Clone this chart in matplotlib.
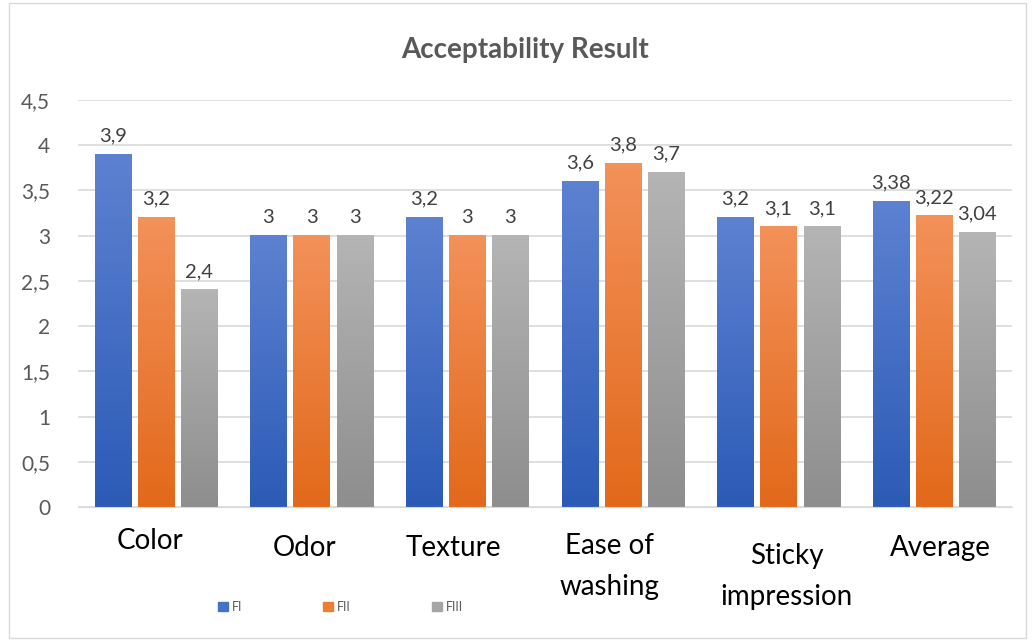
import matplotlib
matplotlib.use("Agg")
import matplotlib.pyplot as plt
import matplotlib.transforms as mtransforms
from matplotlib.colors import LinearSegmentedColormap
import numpy as np

plt.rcParams['font.family'] = ['Lato', 'DejaVu Sans']

categories = ["Color", "Odor", "Texture", "Ease of\nwashing", "Sticky\nimpression", "Average"]
series_names = ["FI", "FII", "FIII"]
fi = [3.9, 3.0, 3.2, 3.6, 3.2, 3.38]
fii = [3.2, 3.0, 3.0, 3.8, 3.1, 3.22]
fiii = [2.4, 3.0, 3.0, 3.7, 3.1, 3.04]
labels_fi = ["3,9", "3", "3,2", "3,6", "3,2", "3,38"]
labels_fii = ["3,2", "3", "3", "3,8", "3,1", "3,22"]
labels_fiii = ["2,4", "3", "3", "3,7", "3,1", "3,04"]
yticks = [0, 0.5, 1, 1.5, 2, 2.5, 3, 3.5, 4, 4.5]
ytick_labels = ["0", "0,5", "1", "1,5", "2", "2,5", "3", "3,5", "4", "4,5"]

# (top colour, bottom colour) of each series gradient
grads = [("#5d81d1", "#2c5bb6"), ("#f3915a", "#e2691a"), ("#b4b4b4", "#8e8e8e")]
legend_colors = ["#4472c4", "#ed7d31", "#a5a5a5"]
text_color = "#595959"

fig = plt.figure(figsize=(10.32, 6.41), dpi=100)
ax = fig.add_axes([0.0756, 0.209, 0.905, 0.635])

x = np.arange(len(categories))
width = 0.232
step = 0.277
values = [fi, fii, fiii]
value_labels = [labels_fi, labels_fii, labels_fiii]

for i, (vals, labs) in enumerate(zip(values, value_labels)):
    bars = ax.bar(x + (i - 1) * step, vals, width, color=legend_colors[i],
                  label=series_names[i], zorder=2)
    cmap = LinearSegmentedColormap.from_list("g%d" % i, [grads[i][1], grads[i][0]])
    for b, lab in zip(bars, labs):
        x0, h = b.get_x(), b.get_height()
        b.set_facecolor("none")
        b.set_edgecolor("none")
        grad = np.linspace(0, 1, 64).reshape(-1, 1)
        ax.imshow(grad, extent=[x0, x0 + width, 0, h], origin="lower",
                  aspect="auto", cmap=cmap, zorder=2)
        ax.annotate(lab, (x0 + width / 2, h), xytext=(0, 7), textcoords="offset points",
                    ha="center", va="bottom", fontsize=14.5, color="#404040")

ax.set_xlim(-0.5, len(categories) - 0.5)
ax.set_ylim(0, 4.5)
ax.set_yticks(yticks)
ax.set_yticklabels(ytick_labels, fontsize=15, color=text_color)
ax.yaxis.grid(True, color="#d9d9d9", linewidth=1.2, zorder=0)
ax.set_axisbelow(True)
ax.tick_params(axis="y", length=0, pad=20)
ax.tick_params(axis="x", length=0, pad=22)
for s in ["top", "right", "left"]:
    ax.spines[s].set_visible(False)
ax.spines["bottom"].set_color("#d9d9d9")

ax.set_xticks(x)
ax.set_xticklabels(categories, fontsize=20, color="black", linespacing=1.75)
offsets = [(-6, 10), (-7, 3), (-14, 3), (-13, 5), (8, -5), (6, 3)]
for lab, (dx, dy) in zip(ax.get_xticklabels(), offsets):
    lab.set_transform(lab.get_transform() +
                      mtransforms.ScaledTranslation(dx / 100, dy / 100, fig.dpi_scale_trans))

fig.text(0.509, 0.922, "Acceptability Result", fontsize=20, fontweight="bold",
         color=text_color, ha="center", va="center")

handles = [plt.Rectangle((0, 0), 1, 1, color=c) for c in legend_colors]
fig.legend(handles, series_names, loc="center left", bbox_to_anchor=(0.2, 0.053),
           ncol=3, frameon=False, fontsize=9, handlelength=0.8, handleheight=0.8,
           columnspacing=6.5, handletextpad=0.3, labelcolor=text_color)

fig.patches.append(plt.Rectangle((0.009, 0.005), 0.985, 0.99, transform=fig.transFigure,
                                 fill=False, edgecolor="#d9d9d9", linewidth=1))

fig.savefig("out.png", dpi=100)
